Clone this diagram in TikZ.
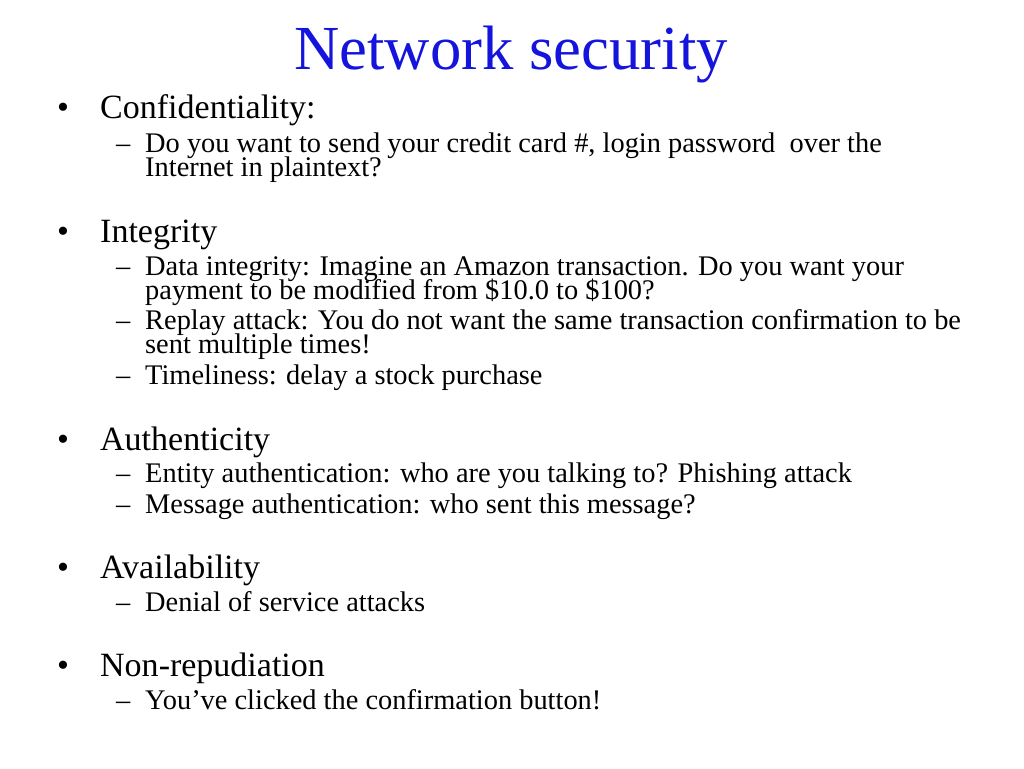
\documentclass[tikz,border=0pt]{standalone}
\usepackage{fontspec}
\setmainfont{Liberation Serif}
\begin{document}
\begin{tikzpicture}[x=1pt,y=-1pt,
  ttl/.style={anchor=base,inner sep=0,font=\fontsize{62.7}{66}\selectfont,text={rgb,255:red,20;green,20;blue,220}},
  lone/.style={anchor=base west,inner sep=0,font=\fontsize{34}{38}\selectfont},
  ltwo/.style={anchor=base west,inner sep=0,font=\fontsize{28.4}{30}\selectfont}]
\useasboundingbox (0,0) rectangle (1024,768);
\node[ttl] (t) at (511,70) {Network security};
\foreach \y/\s [count=\i] in {118/Confidentiality:,242/Integrity,450/Authenticity,578/Availability,676/Non-repudiation}{
  \node[lone] (b\i) at (57,\y) {•};
  \node[lone] (l\i) at (100,\y) {\s};
}
\foreach \y/\s [count=\i] in {152/Do you want to send your credit card \#{,} login password\ \ over the,
  275/Data integrity: Imagine an Amazon transaction. Do you want your,
  329/Replay attack: You do not want the same transaction confirmation to be,
  384/Timeliness: delay a stock purchase,
  482/Entity authentication: who are you talking to? Phishing attack,
  513/Message authentication: who sent this message?,
  611/Denial of service attacks,
  709/You’ve clicked the confirmation button!}{
  \node[ltwo] (d\i) at (116,\y) {–};
  \node[ltwo] (s\i) at (145,\y) {\s};
}
\node[ltwo] (c1) at (145,176) {Internet in plaintext?};
\node[ltwo] (c2) at (145,299) {payment to be modified from \$10.0 to \$100?};
\node[ltwo] (c3) at (145,353) {sent multiple times!};
\end{tikzpicture}
\end{document}
